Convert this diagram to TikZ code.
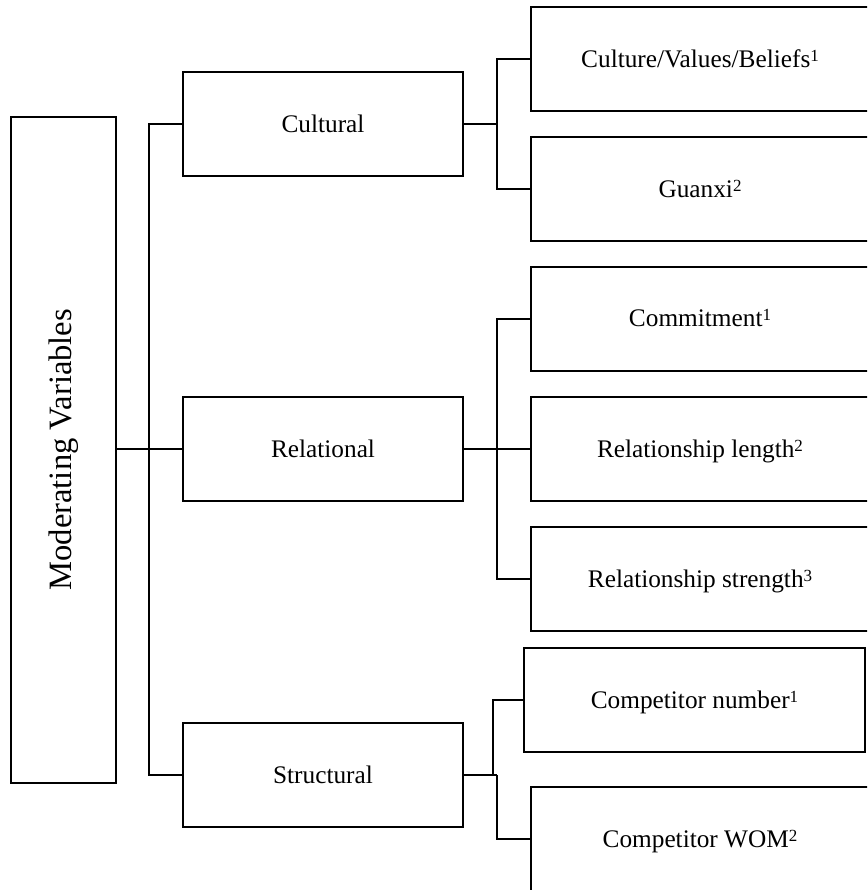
\documentclass[tikz,border=0pt]{standalone}
\usepackage{fontspec}
\setmainfont{Liberation Serif}
% raised index digit after a box label
\newcommand{\supnum}[1]{\raisebox{6pt}{\fontsize{17}{19}\selectfont #1}}

\begin{document}
\begin{tikzpicture}[x=1pt, y=-1pt,
  box/.style={draw, line width=2pt, inner sep=0pt, minimum height=104pt,
    text height=16.7pt, text depth=0pt, font=\fontsize{25.3}{30}\selectfont},
  midbox/.style={box, minimum width=280pt},
  leafbox/.style={box, minimum width=338pt},
  conn/.style={line width=1.8pt}
]
\useasboundingbox (0,0) rectangle (867,890);
\clip (0,0) rectangle (867,890);

% root box with vertical title
\node[draw, line width=2pt, minimum width=104.5pt, minimum height=666pt, inner sep=0pt]
  (mv) at (63.25,449.7) {};
\node[rotate=90, font=\fontsize{32.6}{38}\selectfont, inner sep=0pt] (mvlabel) at (mv.center)
  {Moderating Variables};

% second level
\node[midbox] (cult)  at (323,124) {Cultural};
\node[midbox] (rel)   at (323,449) {Relational};
\node[midbox] (struc) at (323,775) {Structural};

% leaves
\node[leafbox] (cvb)    at (700,58.7)  {Culture/Values/Beliefs\supnum{1}};
\node[leafbox] (guanxi) at (700,189.3) {Guanxi\supnum{2}};
\node[leafbox] (commit) at (700,318.6) {Commitment\supnum{1}};
\node[leafbox] (rlen)   at (700,449)   {Relationship length\supnum{2}};
\node[leafbox] (rstr)   at (700,579)   {Relationship strength\supnum{3}};
\node[box, minimum width=341pt] (cnum) at (694.5,699.7) {Competitor number\supnum{1}};
\node[leafbox] (cwom)   at (700,838.7) {Competitor WOM\supnum{2}};

% branch points
\coordinate (spine) at (149,449);
\coordinate (b1) at (497,124);
\coordinate (b2) at (497,449);
\coordinate (b3a) at (493.3,775);
\coordinate (b3b) at (497,775);

% root to second level
\draw[conn] (mv.east |- rel.west) -- (rel.west);
\draw[conn] (cult.west) -| (spine) |- (struc.west);

% cultural branch
\draw[conn] (cult.east) -- (b1);
\draw[conn] (cvb.west) -| (b1) |- (guanxi.west);

% relational branch
\draw[conn] (rel.east) -- (rlen.west);
\draw[conn] (commit.west) -| (b2) |- (rstr.west);

% structural branch
\draw[conn] (struc.east) -- (b3b);
\draw[conn] (cnum.west) -| (b3a);
\draw[conn] (b3b) |- (cwom.west);
\end{tikzpicture}
\end{document}
